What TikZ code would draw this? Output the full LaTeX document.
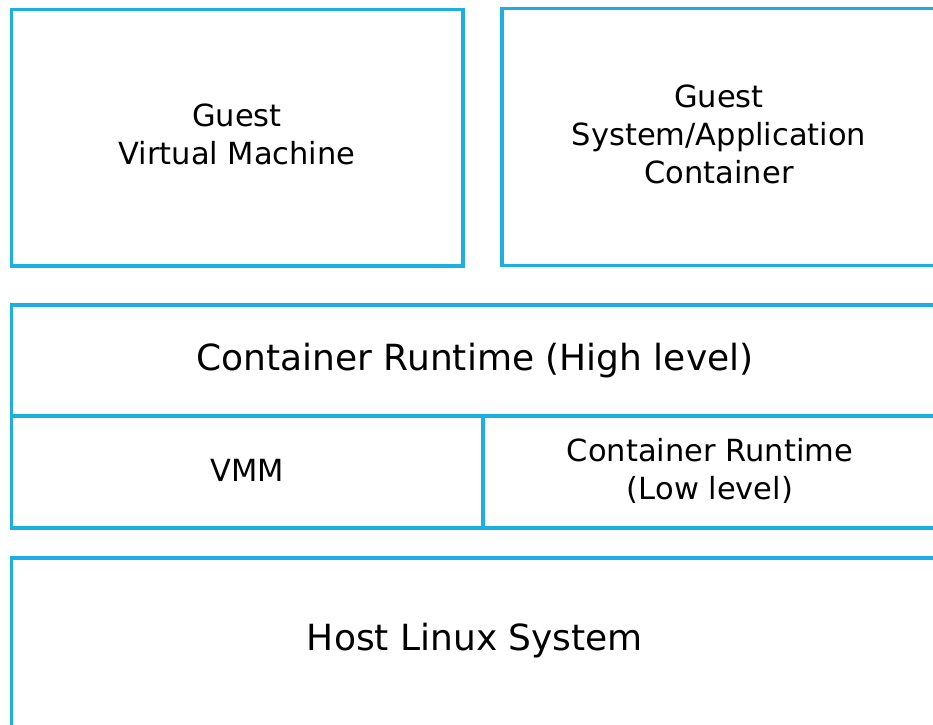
\documentclass[tikz,border=0pt]{standalone}
\usepackage{fontspec}
\setmainfont{DejaVu Sans}
\usetikzlibrary{calc}
\definecolor{layerblue}{RGB}{29,174,228}
\newcommand{\layerbox}[4] % left, top, right, bottom in px
{
	\draw[layerblue, line width=3.4pt] (#1,#2) rectangle (#3,#4);
}

\begin{document}
\begin{tikzpicture}[x=1pt, y=-1pt,
	small/.style={align=center, font=\fontsize{30.5}{38}\selectfont},
	big/.style={align=center, font=\fontsize{36}{44}\selectfont}]
	% 933 x 724 px, boxes run past the right and lower edges
	\useasboundingbox (0,0) rectangle (933,724);
	\clip (0,0) rectangle (933,724);
	
	% guests
	\layerbox{11.5}{9.5}{463}{266};
	\layerbox{502}{8.5}{950}{265.5};
	
	% runtimes
	\layerbox{11.5}{305}{950}{416};
	\layerbox{11.5}{416}{950}{528};
	\draw[layerblue, line width=3.4pt] (483,416) -- (483,528);
	
	% host
	\layerbox{11.5}{558}{950}{760};
	
	\node[small] (vm) at (237,134) {Guest\\Virtual Machine};
	\node[small] (ctr) at (719,134) {Guest\\System/Application\\Container};
	\node[big] (high) at (475,361) {Container Runtime (High level)};
	\node[small] (vmm) at (247,470) {VMM};
	\node[small] (low) at (710,471) {Container Runtime\\(Low level)};
	\node[big] (host) at (475,641) {Host Linux System};
\end{tikzpicture}
\end{document}
